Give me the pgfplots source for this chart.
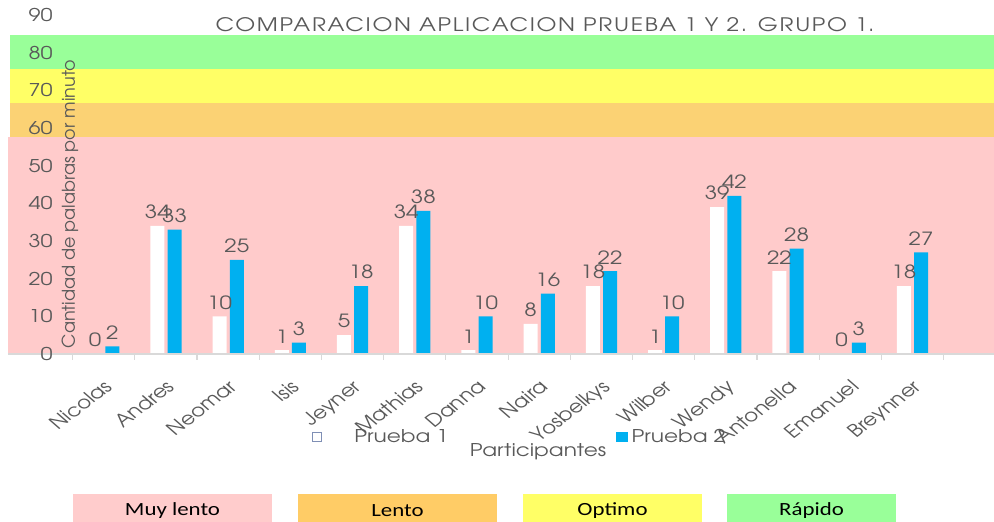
\documentclass[border=0pt]{standalone}
\usepackage{pgfplots}
\pgfplotsset{compat=1.18}
\usepackage{fontspec}
\setmainfont{TeX Gyre Adventor}[FakeStretch=1.23]
\newfontfamily\advplain{TeX Gyre Adventor}
\newfontfamily\calibri{Carlito}[FakeStretch=1.23]
\definecolor{txt}{HTML}{595959}
\definecolor{bpink}{HTML}{FFCBCB}
\definecolor{borange}{HTML}{FBD274}
\definecolor{byellow}{HTML}{FFFF66}
\definecolor{bgreen}{HTML}{99FF99}
\definecolor{kpink}{HTML}{FFCCCC}
\definecolor{korange}{HTML}{FFCC66}
\definecolor{kyellow}{HTML}{FFFF66}
\definecolor{kgreen}{HTML}{99FF99}
\definecolor{barblue}{HTML}{00B0F0}
\definecolor{legbord}{HTML}{7F8FB5}
\newcommand{\fsz}{\fontsize{8.8}{10}\selectfont}
\begin{document}
\begin{tikzpicture}
\begin{axis}[
  at={(0,0)}, anchor=south west,
  scale only axis, width=493pt, height=169.5pt,
  xmin=-1.54, xmax=14.312, ymin=0, ymax=90,
  axis on top,
  /pgf/number format/assume math mode=true,
  axis x line*=bottom, axis y line*=left,
  x axis line style={draw=black!15, line width=0.6pt, -},
  y axis line style={draw=none},
  xtick={-0.5,0.5,...,13.5},
  xticklabels={Nicolas,Andres,Neomar,Isis,Jeyner,Mathias,Danna,Naira,Yosbelkys,Wilber,Wendy,Antonella,Emanuel,Breynner},
  x tick label as interval,
  xtick style={draw=black!15, line width=0.6pt},
  tick align=outside, major tick length=3pt,
  x tick label style={xscale=1.23, rotate=43, anchor=north east, inner sep=0pt, xshift=-6.5pt, yshift=-6.5pt,
    font=\advplain\fontsize{8.8}{9}\selectfont, text=txt},
  ytick={0,10,...,90},
  ytick style={draw=none},
  y tick label style={anchor=east, inner sep=0pt, xshift=25.5pt, font=\fsz, text=txt},
  xlabel={Participantes},
  xlabel style={at={(0.5375,-0.289)}, anchor=center, font=\fsz, text=txt},
  ylabel={Cantidad de palabras por minuto},
  ylabel style={at={(0.0629,0.4425)}, anchor=center, rotate=0, font=\advplain\fontsize{8.8}{10}\selectfont, text=txt},
  legend style={at={(0.308,-0.245)}, anchor=west, draw=none, fill=none, inner sep=0pt,
    font=\fsz, text=txt, /tikz/every even column/.append style={column sep=82pt}},
  legend columns=2,
  legend cell align=left,
]
% performance bands
\addplot[draw=none, fill=bpink, forget plot] coordinates {(-1.54,0) (14.312,0) (14.312,57.7) (-1.54,57.7)};
\addplot[draw=none, fill=borange, forget plot] coordinates {(-1.51,57.7) (14.312,57.7) (14.312,66.6) (-1.51,66.6)};
\addplot[draw=none, fill=byellow, forget plot] coordinates {(-1.51,66.6) (14.312,66.6) (14.312,75.7) (-1.51,75.7)};
\addplot[draw=none, fill=bgreen, forget plot] coordinates {(-1.51,75.7) (14.312,75.7) (14.312,84.7) (-1.51,84.7)};
% Prueba 1
\addplot[ybar, bar width=7pt, bar shift=-4.3pt, fill=white, draw=none,
  nodes near coords,
  every node near coord/.append style={font=\fontsize{9.1}{10}\selectfont, text=txt, xshift=-4.3pt},
  legend image code/.code={\draw[draw=legbord, fill=white, line width=0.5pt] (0pt,-2.3pt) rectangle (4.6pt,2.3pt);}]
  coordinates {(0,0) (1,34) (2,10) (3,1) (4,5) (5,34) (6,1) (7,8) (8,18) (9,1) (10,39) (11,22) (12,0) (13,18)};
\addlegendentry{\hspace{14pt}Prueba 1}
% Prueba 2
\addplot[ybar, bar width=7pt, bar shift=4.3pt, fill=barblue, draw=none,
  nodes near coords,
  every node near coord/.append style={font=\fontsize{9.1}{10}\selectfont, text=txt, xshift=4.3pt},
  legend image code/.code={\fill[barblue] (0pt,-2.6pt) rectangle (5.6pt,2.6pt);}]
  coordinates {(0,2) (1,33) (2,25) (3,3) (4,18) (5,38) (6,10) (7,16) (8,22) (9,10) (10,42) (11,28) (12,3) (13,27)};
\addlegendentry{Prueba 2}
\node[font=\fontsize{9.3}{10}\selectfont, text=txt, inner sep=0pt, anchor=center]
  at (axis description cs:0.5446,0.9705) {\addfontfeature{LetterSpace=9}COMPARACION APLICACION PRUEBA 1 Y 2. GRUPO 1.};
\end{axis}
% category key below the chart
\fill[kpink] (32.5pt,-70pt) rectangle (132pt,-84pt);
\fill[korange] (145pt,-70pt) rectangle (244.5pt,-84pt);
\fill[kyellow] (257.5pt,-70pt) rectangle (347pt,-84pt);
\fill[kgreen] (359.5pt,-70pt) rectangle (444pt,-84pt);
\begin{scope}[every node/.style={font=\calibri\fontsize{9.3}{11}\selectfont, text=black, inner sep=0pt}]
\node at (82.25pt,-78.5pt) {Muy lento};
\node at (194.75pt,-78.5pt) {Lento};
\node at (302.25pt,-78.5pt) {Optimo};
\node at (401.75pt,-78.5pt) {Rápido};
\end{scope}
\pgfresetboundingbox
\useasboundingbox (-4pt,-84pt) rectangle (493pt,177pt);
\end{tikzpicture}
\end{document}
